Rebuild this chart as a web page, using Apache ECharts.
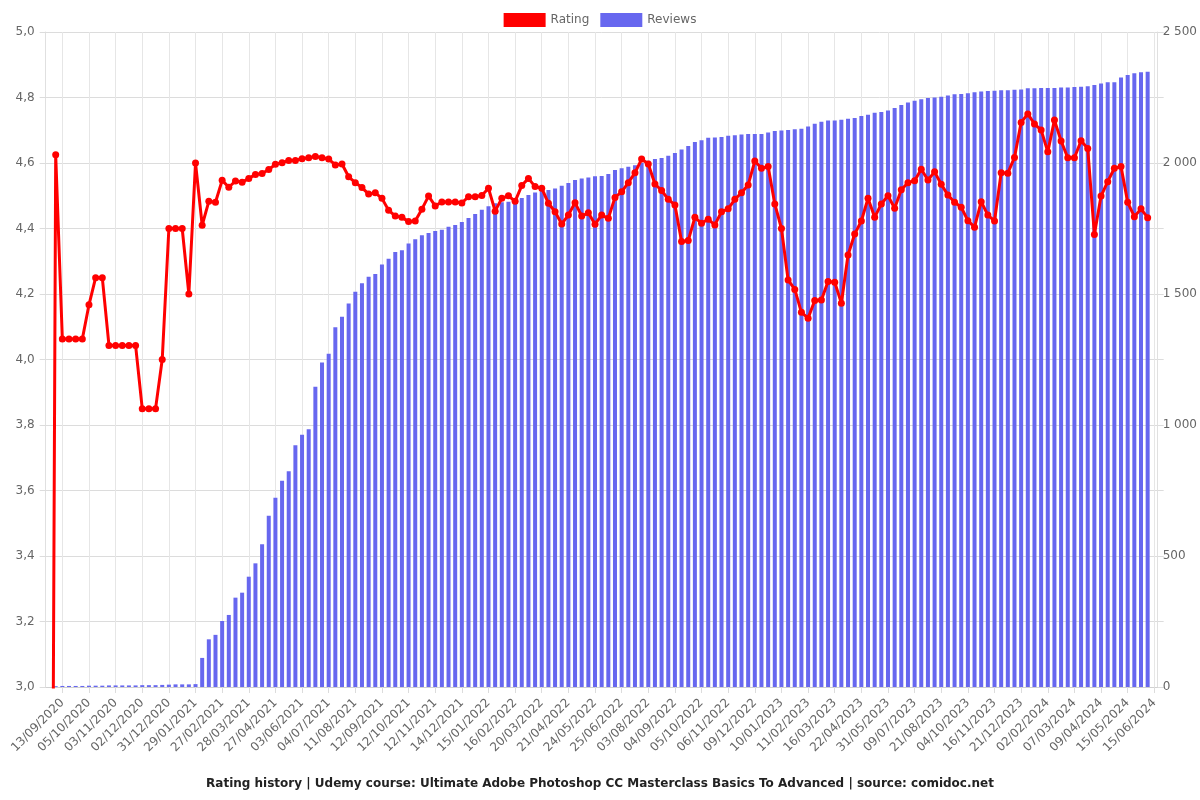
<!DOCTYPE html>
<html><head><meta charset="utf-8">
<script src="https://cdn.jsdelivr.net/npm/echarts@6/dist/echarts.min.js"></script>
<style>html,body{margin:0;padding:0;background:#fff}#c{width:1200px;height:800px}</style>
</head><body><div id="c"></div>
<script>
const tickLabels = ['13/09/2020','05/10/2020','03/11/2020','02/12/2020','31/12/2020','29/01/2021','27/02/2021','28/03/2021','27/04/2021','03/06/2021','04/07/2021','11/08/2021','12/09/2021','12/10/2021','12/11/2021','14/12/2021','15/01/2022','16/02/2022','20/03/2022','21/04/2022','24/05/2022','25/06/2022','03/08/2022','04/09/2022','05/10/2022','06/11/2022','09/12/2022','10/01/2023','11/02/2023','16/03/2023','22/04/2023','31/05/2023','09/07/2023','21/08/2023','04/10/2023','16/11/2023','21/12/2023','02/02/2024','07/03/2024','09/04/2024','15/05/2024','15/06/2024'];

const ratings = [0,4.625,4.0625,4.0625,4.0625,4.0625,4.167,4.25,4.25,4.043,
4.043,4.043,4.043,4.043,3.85,3.85,3.85,4.0,4.4,4.4,
4.4,4.2,4.6,4.41,4.483,4.48,4.547,4.526,4.545,4.541,
4.553,4.565,4.568,4.58,4.596,4.601,4.608,4.608,4.613,4.616,
4.62,4.616,4.612,4.594,4.597,4.558,4.540,4.525,4.505,4.509,
4.492,4.456,4.438,4.434,4.421,4.423,4.459,4.499,4.469,4.481,
4.481,4.481,4.478,4.497,4.497,4.501,4.523,4.453,4.492,4.5,
4.483,4.531,4.553,4.528,4.523,4.477,4.451,4.414,4.441,4.479,
4.438,4.448,4.413,4.441,4.431,4.495,4.512,4.540,4.570,4.612,
4.597,4.536,4.516,4.489,4.472,4.360,4.363,4.434,4.416,4.428,
4.411,4.451,4.460,4.489,4.509,4.533,4.606,4.584,4.589,4.475,
4.400,4.243,4.214,4.144,4.126,4.180,4.182,4.238,4.236,4.172,
4.319,4.383,4.423,4.492,4.434,4.475,4.5,4.462,4.518,4.540,
4.546,4.581,4.548,4.573,4.535,4.502,4.480,4.465,4.424,4.404,
4.482,4.441,4.423,4.570,4.569,4.617,4.724,4.750,4.719,4.701,
4.634,4.731,4.667,4.616,4.616,4.668,4.644,4.382,4.499,4.543,
4.584,4.589,4.480,4.436,4.460,4.433];

const reviews = [0,3,4,4,4,4,5,5,5,6,
6,6,6,6,7,7,7,8,9,10,
10,10,11,111,182,199,252,275,341,360,
421,472,545,654,722,787,823,923,963,984,
1146,1239,1272,1373,1413,1464,1509,1541,1566,1576,
1613,1635,1660,1667,1693,1709,1724,1733,1740,1745,
1757,1763,1775,1790,1805,1822,1835,1846,1850,1852,
1855,1866,1878,1887,1893,1897,1903,1913,1924,1935,
1941,1945,1949,1950,1958,1973,1980,1986,1991,2001,
2009,2015,2019,2028,2038,2052,2065,2080,2087,2096,
2097,2099,2104,2106,2109,2111,2111,2111,2116,2122,
2124,2126,2129,2131,2139,2150,2157,2162,2162,2165,
2169,2172,2179,2184,2192,2195,2200,2210,2221,2231,
2238,2243,2248,2250,2253,2258,2262,2263,2266,2270,
2273,2275,2276,2278,2278,2280,2281,2285,2285,2286,
2286,2286,2288,2288,2290,2291,2293,2298,2303,2308,
2308,2326,2336,2343,2346,2348];

const titleText = 'Rating history | Udemy course: Ultimate Adobe Photoshop CC Masterclass Basics To Advanced | source: comidoc.net';

const LABEL_OFFSET = 2, LABEL_STEP = 4;
const nCats = LABEL_OFFSET + LABEL_STEP * (tickLabels.length - 1) + 1;
const categories = [];
for (let i = 0; i < nCats; i++) {
  const k = (i - LABEL_OFFSET) / LABEL_STEP;
  categories.push(Number.isInteger(k) && k >= 0 ? tickLabels[k] : '');
}
const pad = arr => arr.concat(new Array(nCats - arr.length).fill(null));
const showIdx = (idx) => idx >= LABEL_OFFSET && (idx - LABEL_OFFSET) % LABEL_STEP === 0;

const FONT = 'DejaVu Sans';
const chart = echarts.init(document.getElementById('c'), null, {renderer: 'canvas'});
chart.setOption({
  animation: false,
  backgroundColor: '#fff',
  textStyle: {fontFamily: FONT},
  title: {
    text: titleText, left: 'center', bottom: 5,
    textStyle: {fontFamily: FONT, fontSize: 12, fontWeight: 'bold', color: '#222'}
  },
  legend: {
    top: 8, left: 'center', itemWidth: 42, itemHeight: 14, itemGap: 11,
    icon: 'rect', data: ['Rating', 'Reviews'],
    textStyle: {fontFamily: FONT, fontSize: 12, color: '#666'}
  },
  grid: {left: 45.7, right: 41.3, top: 32, bottom: 113, containLabel: false},
  xAxis: {
    type: 'category', data: categories, boundaryGap: true,
    axisLine: {show: true, lineStyle: {color: '#d0d0d0', width: 1}},
    axisTick: {show: true, alignWithLabel: true, interval: showIdx, length: 6, lineStyle: {color: '#dcdcdc'}},
    splitLine: {show: true, alignWithLabel: true, interval: showIdx, lineStyle: {color: '#e6e6e6', width: 1}},
    axisLabel: {interval: showIdx, rotate: 45, margin: 14, fontSize: 12, color: '#666', fontFamily: FONT}
  },
  yAxis: [
    {
      type: 'value', min: 3, max: 5, interval: 0.2, position: 'left',
      axisLine: {show: true, lineStyle: {color: '#e0e0e0'}},
      axisTick: {show: true, length: 6, lineStyle: {color: '#dcdcdc'}},
      splitLine: {show: true, lineStyle: {color: '#dcdcdc', width: 1}},
      axisLabel: {fontSize: 12, color: '#666', margin: 11, fontFamily: FONT,
        formatter: v => v.toFixed(1).replace('.', ',')}
    },
    {
      type: 'value', min: 0, max: 2500, interval: 250, position: 'right',
      axisLine: {show: true, lineStyle: {color: '#e0e0e0'}},
      axisTick: {show: true, length: 6, lineStyle: {color: '#dcdcdc'}},
      splitLine: {show: false},
      axisLabel: {fontSize: 12, color: '#666', margin: 5, fontFamily: FONT,
        formatter: v => (v % 500 === 0 ? String(v).replace(/\B(?=(\d{3})+(?!\d))/g, ' ') : '')}
    }
  ],
  series: [
    {
      name: 'Reviews', type: 'bar', yAxisIndex: 1, data: pad(reviews),
      barWidth: 4, itemStyle: {color: '#6767ef'}, z: 1
    },
    {
      name: 'Rating', type: 'line', yAxisIndex: 0, data: pad(ratings),
      symbol: 'circle', symbolSize: 7, showSymbol: true, showAllSymbol: true, clip: true,
      lineStyle: {color: '#ff0000', width: 3}, itemStyle: {color: '#ff0000'}, z: 3
    }
  ]
});
</script></body></html>
